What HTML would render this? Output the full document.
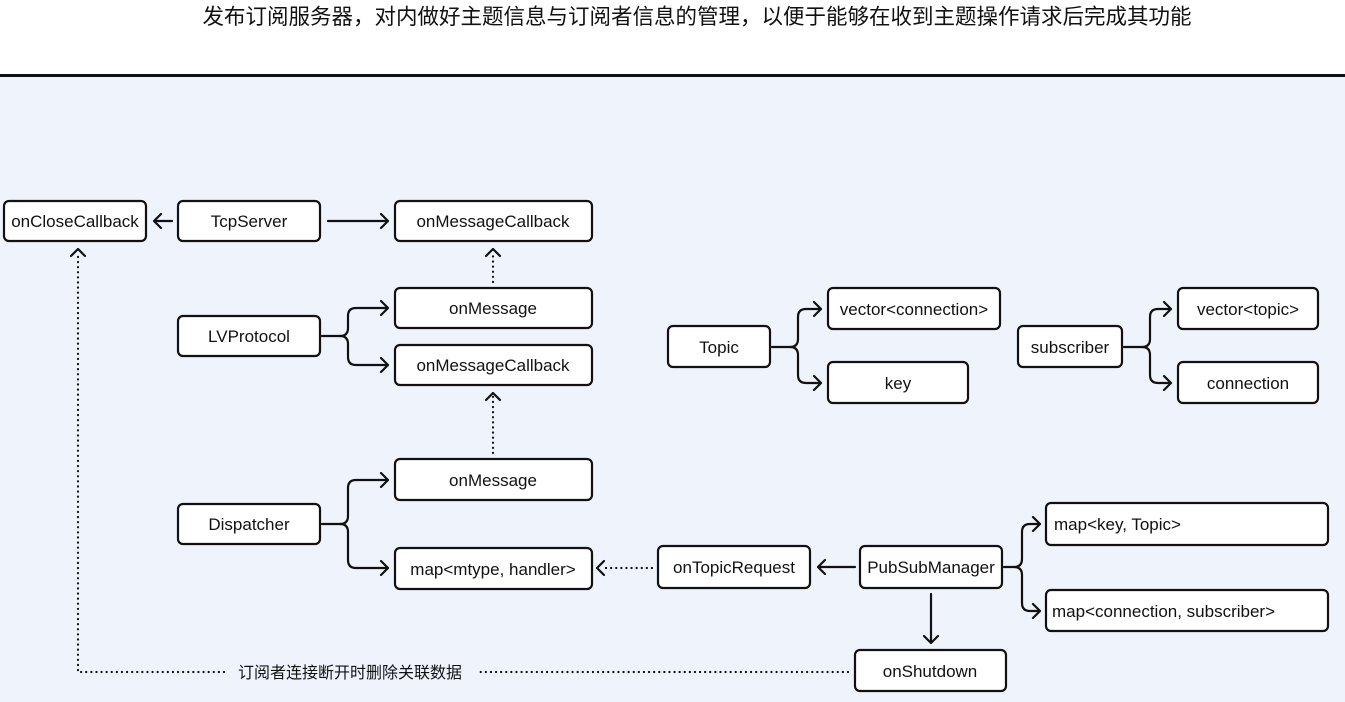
<!DOCTYPE html>
<html><head><meta charset="utf-8"><style>
html,body{margin:0;padding:0;background:#fff;}
svg{display:block;}
text{font-family:"Liberation Sans","Noto Sans CJK SC",sans-serif;font-size:17px;fill:#111;}
</style></head><body>
<svg width="1345" height="702" viewBox="0 0 1345 702">
<rect x="0" y="0" width="1345" height="75" fill="#fff"/>
<rect x="0" y="75" width="1345" height="627" fill="#eff3fc"/>
<line x1="0" y1="75.5" x2="1345" y2="75.5" stroke="#111" stroke-width="3"/>
<text x="697" y="24" text-anchor="middle" style="font-size:21.5px">发布订阅服务器，对内做好主题信息与订阅者信息的管理，以便于能够在收到主题操作请求后完成其功能</text>
<g fill="#fff" stroke="#111" stroke-width="2.2">
<rect x="4" y="201" width="142" height="40" rx="5"/>
<rect x="178" y="201" width="142" height="40" rx="5"/>
<rect x="395" y="201" width="197" height="40" rx="5"/>
<rect x="395" y="288" width="197" height="40" rx="5"/>
<rect x="178" y="316" width="142" height="40" rx="5"/>
<rect x="395" y="345" width="197" height="40" rx="5"/>
<rect x="395" y="459" width="197" height="41" rx="5"/>
<rect x="178" y="504" width="142" height="40" rx="5"/>
<rect x="395" y="548" width="197" height="41" rx="5"/>
<rect x="658" y="546" width="152" height="42" rx="5"/>
<rect x="860" y="546" width="142" height="42" rx="5"/>
<rect x="1046" y="503" width="282" height="42" rx="5"/>
<rect x="1046" y="590" width="282" height="41" rx="5"/>
<rect x="855" y="650" width="151" height="41" rx="5"/>
<rect x="668" y="326" width="102" height="41" rx="5"/>
<rect x="828" y="288" width="172" height="41" rx="5"/>
<rect x="828" y="362" width="140" height="41" rx="5"/>
<rect x="1018" y="326" width="104" height="41" rx="5"/>
<rect x="1178" y="288" width="140" height="41" rx="5"/>
<rect x="1178" y="362" width="140" height="41" rx="5"/>
</g>
<g text-anchor="middle">
<text x="75" y="227">onCloseCallback</text>
<text x="249" y="227">TcpServer</text>
<text x="493" y="227">onMessageCallback</text>
<text x="493" y="314">onMessage</text>
<text x="249" y="342">LVProtocol</text>
<text x="493" y="371">onMessageCallback</text>
<text x="493" y="486">onMessage</text>
<text x="249" y="530">Dispatcher</text>
<text x="493" y="575">map&lt;mtype, handler&gt;</text>
<text x="734" y="573">onTopicRequest</text>
<text x="931" y="573">PubSubManager</text>
<text x="930" y="677">onShutdown</text>
<text x="719" y="353">Topic</text>
<text x="914" y="315">vector&lt;connection&gt;</text>
<text x="898" y="389">key</text>
<text x="1070" y="353">subscriber</text>
<text x="1248" y="315">vector&lt;topic&gt;</text>
<text x="1248" y="389">connection</text>
</g>
<text x="1054" y="530">map&lt;key, Topic&gt;</text>
<text x="1052" y="617">map&lt;connection, subscriber&gt;</text>
<text x="350" y="678" text-anchor="middle" style="font-size:16px">订阅者连接断开时删除关联数据</text>
<g fill="none" stroke="#111" stroke-width="2.2" stroke-linecap="round" stroke-linejoin="round">
<path d="M172 221 H154 M161 214 L154 221 L161 228"/>
<path d="M328 221 H388 M381 214 L388 221 L381 228"/>
<path d="M322 336 H340 Q348 336 348 328 V316 Q348 308 356 308 H388 M381 301 L388 308 L381 315"/>
<path d="M340 336 Q348 336 348 344 V357 Q348 365 356 365 H388 M381 358 L388 365 L381 372"/>
<path d="M322 524 H340 Q348 524 348 516 V488 Q348 480 356 480 H388 M381 473 L388 480 L381 487"/>
<path d="M340 524 Q348 524 348 532 V560 Q348 568 356 568 H388 M381 561 L388 568 L381 575"/>
<path d="M772 347 H790 Q798 347 798 339 V317 Q798 309 806 309 H821 M814 302 L821 309 L814 316"/>
<path d="M790 347 Q798 347 798 355 V375 Q798 383 806 383 H821 M814 376 L821 383 L814 390"/>
<path d="M1124 347 H1142 Q1150 347 1150 339 V317 Q1150 309 1158 309 H1171 M1164 302 L1171 309 L1164 316"/>
<path d="M1142 347 Q1150 347 1150 355 V375 Q1150 383 1158 383 H1171 M1164 376 L1171 383 L1164 390"/>
<path d="M1004 567 H1014 Q1022 567 1022 559 V532 Q1022 524 1030 524 H1040 M1033 517 L1040 524 L1033 531"/>
<path d="M1014 567 Q1022 567 1022 575 V603 Q1022 611 1030 611 H1040 M1033 604 L1040 611 L1033 618"/>
<path d="M855 567 H818 M825 560 L818 567 L825 574"/>
<path d="M931 594 V643 M924 636 L931 643 L938 636"/>
<path d="M493 282 V252" stroke-dasharray="0.1 5"/>
<path d="M486 256 L493 249 L500 256"/>
<path d="M493 453 V396" stroke-dasharray="0.1 5"/>
<path d="M486 400 L493 393 L500 400"/>
<path d="M652 568 H604" stroke-dasharray="0.1 5"/>
<path d="M604 561 L597 568 L604 575"/>
<path d="M848 672 H476 M224 672 H78 V252" stroke-dasharray="0.1 5"/>
<path d="M71 256 L78 249 L85 256"/>
</g>
</svg>
</body></html>
